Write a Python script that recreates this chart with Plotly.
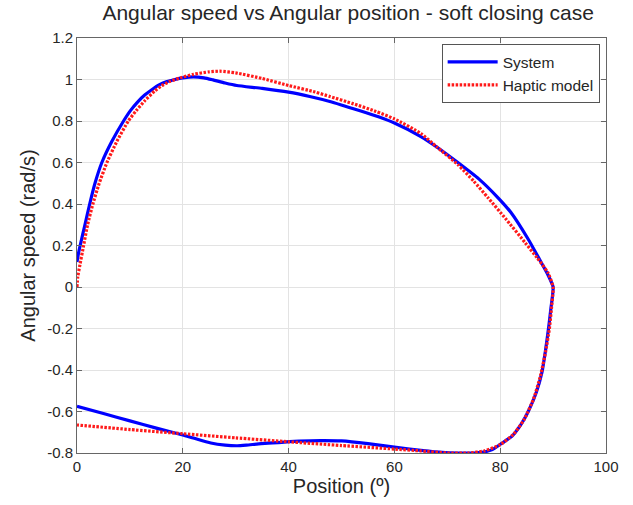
import plotly.graph_objects as go

# System (blue) loop: upper branch (0 -> 90) then lower branch back (90 -> 0)
sys_x = [0, 0.3, 0.6, 1.5, 2.4, 3.4, 4.7, 6.55, 8.8, 10.1, 11.4, 12.8, 14.2, 15.6, 17, 18.5, 20, 22, 24, 25.7, 28, 30.2, 35, 40, 44, 47.8, 53.5, 57, 60, 65, 68, 72, 76, 79.6, 82, 85.3, 87.5, 89, 90,
         89.6, 89.2, 88.6, 87.9, 86.8, 85.3, 84, 82.2, 80.2, 78.4, 76.5, 75, 72, 69, 65, 60, 55, 50, 46, 42, 38, 34.8, 32, 30.3, 28, 25.3, 22, 20, 15, 10, 5, 0]
sys_y = [0.12, 0.165, 0.2, 0.3, 0.4, 0.5, 0.6, 0.7, 0.8, 0.85, 0.89, 0.925, 0.952, 0.975, 0.99, 1.0, 1.008, 1.013, 1.008, 0.998, 0.983, 0.971, 0.957, 0.939, 0.918, 0.894, 0.849, 0.82, 0.79, 0.725, 0.675, 0.6, 0.52, 0.43, 0.36, 0.23, 0.13, 0.06, 0.0,
         -0.1, -0.186, -0.3, -0.41, -0.51, -0.6, -0.66, -0.72, -0.755, -0.785, -0.797, -0.8, -0.8, -0.797, -0.787, -0.772, -0.755, -0.742, -0.74, -0.743, -0.75, -0.755, -0.762, -0.765, -0.762, -0.752, -0.728, -0.713, -0.68, -0.645, -0.61, -0.575]

# Haptic model (red dotted) loop
hap_x = [0, 0.15, 0.5, 1.25, 2.0, 3.0, 4.2, 5.66, 7.5, 9.7, 11.2, 12.9, 14.7, 16, 17.5, 19.5, 22, 25, 27, 30, 35, 40, 45, 47.8, 52, 56.5, 60, 65, 68, 72, 75, 77.7, 81, 84.7, 87, 89, 90,
         89.7, 89.3, 88.6, 87.6, 86.3, 84.5, 82.5, 80, 77, 74, 70, 65, 60, 50, 40, 30, 20, 10, 0]
hap_y = [0.0, 0.05, 0.1, 0.2, 0.3, 0.4, 0.5, 0.6, 0.7, 0.8, 0.85, 0.9, 0.945, 0.97, 0.99, 1.008, 1.025, 1.037, 1.04, 1.032, 1.005, 0.971, 0.94, 0.918, 0.885, 0.846, 0.81, 0.74, 0.675, 0.59, 0.51, 0.43, 0.33, 0.214, 0.14, 0.07, 0.0,
         -0.1, -0.2, -0.31, -0.43, -0.54, -0.64, -0.71, -0.76, -0.79, -0.8, -0.8, -0.79, -0.781, -0.764, -0.746, -0.727, -0.707, -0.687, -0.665]

x_ticks = [0, 20, 40, 60, 80, 100]
x_tick_labels = ["0", "20", "40", "60", "80", "100"]
y_ticks = [-0.8, -0.6, -0.4, -0.2, 0, 0.2, 0.4, 0.6, 0.8, 1.0, 1.2]
y_tick_labels = ["-0.8", "-0.6", "-0.4", "-0.2", "0", "0.2", "0.4", "0.6", "0.8", "1", "1.2"]

FONT = "Liberation Sans, Arial, sans-serif"
TXT = "#262626"

fig = go.Figure()
fig.add_trace(go.Scatter(x=sys_x, y=sys_y, mode="lines", name="System",
                         line=dict(color="#0000ff", width=3.2, shape="spline", smoothing=0.5)))
fig.add_trace(go.Scatter(x=hap_x, y=hap_y, mode="lines", name="Haptic model",
                         line=dict(color="#ff1a1a", width=3.2, dash="2.5px,1.5px", shape="spline", smoothing=0.5)))

axis_common = dict(showline=True, linecolor="#666666", linewidth=1, mirror="ticks",
                   ticks="inside", ticklen=5, tickcolor="#666666",
                   showgrid=True, gridcolor="#e3e3e3", gridwidth=1, zeroline=False,
                   tickfont=dict(family=FONT, size=15, color=TXT))

fig.update_layout(
    width=633, height=505,
    margin=dict(l=77, r=27, t=38, b=50),
    paper_bgcolor="white", plot_bgcolor="white",
    title=dict(text="Angular speed vs Angular position - soft closing case",
               x=0.55, xanchor="center", y=0.99, yanchor="top",
               font=dict(family=FONT, size=21, color=TXT)),
    xaxis=dict(range=[0, 100], tickvals=x_ticks, ticktext=x_tick_labels,
               title=dict(text="Position (º)", font=dict(family=FONT, size=20, color=TXT), standoff=4),
               **axis_common),
    yaxis=dict(range=[-0.8, 1.2], tickvals=y_ticks, ticktext=y_tick_labels,
               title=dict(text="Angular speed (rad/s)", font=dict(family=FONT, size=20, color=TXT), standoff=6),
               **axis_common),
    legend=dict(x=0.988, y=0.985, xanchor="right", yanchor="top",
                bgcolor="white", bordercolor="#555555", borderwidth=1,
                font=dict(family=FONT, size=15.5, color=TXT),
                tracegroupgap=0, itemwidth=50),
    showlegend=True,
)

fig.write_html("out.html")
